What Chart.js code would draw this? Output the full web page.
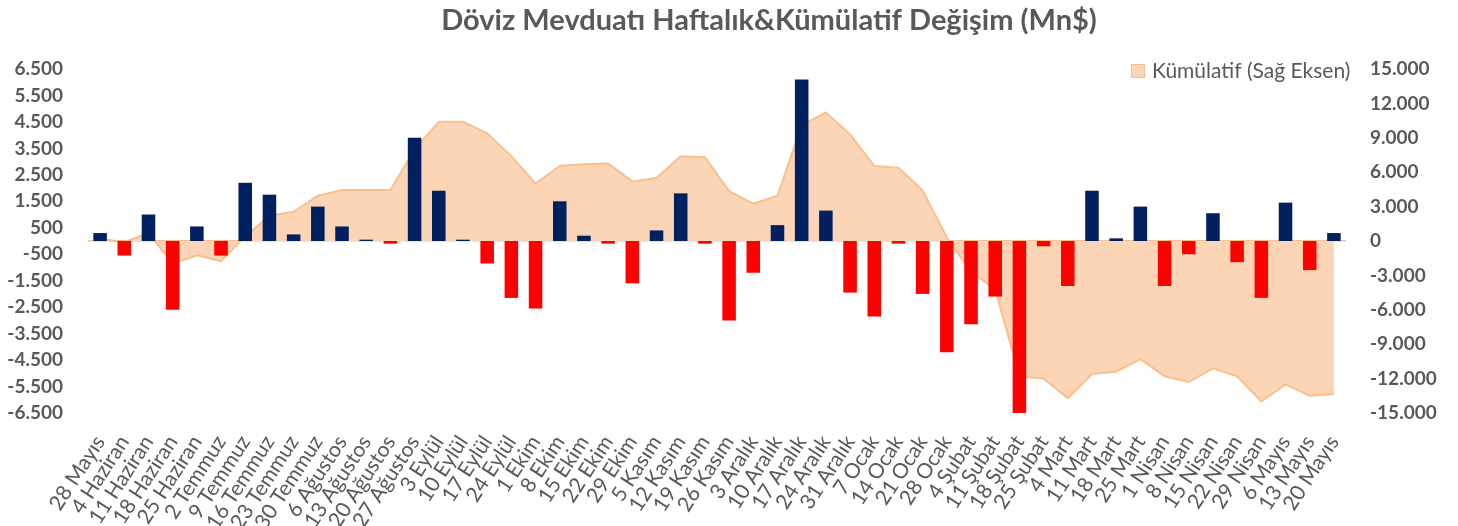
<!DOCTYPE html>
<html>
<head>
<meta charset="utf-8">
<script src="https://cdn.jsdelivr.net/npm/chart.js@4.4.1/dist/chart.umd.min.js"></script>
<style>
  html, body { margin: 0; padding: 0; background: #fff; }
  #wrap { width: 1458px; height: 526px; }
</style>
</head>
<body>
<div id="wrap"><canvas id="chart" width="1458" height="526"></canvas></div>
<script>
// Weeks (category axis)
const weeks = [
  '28 Mayıs', '4 Haziran', '11 Haziran', '18 Haziran', '25 Haziran',
  '2 Temmuz', '9 Temmuz', '16 Temmuz', '23 Temmuz', '30 Temmuz',
  '6 Ağustos', '13 Ağustos', '20 Ağustos', '27 Ağustos',
  '3 Eylül', '10 Eylül', '17 Eylül', '24 Eylül',
  '1 Ekim', '8 Ekim', '15 Ekim', '22 Ekim', '29 Ekim',
  '5 Kasım', '12 Kasım', '19 Kasım', '26 Kasım',
  '3 Aralık', '10 Aralık', '17 Aralık', '24 Aralık', '31 Aralık',
  '7 Ocak', '14 Ocak', '21 Ocak', '28 Ocak',
  '4 Şubat', '11 Şubat', '18 Şubat', '25 Şubat',
  '4 Mart', '11 Mart', '18 Mart', '25 Mart',
  '1 Nisan', '8 Nisan', '15 Nisan', '22 Nisan', '29 Nisan',
  '6 Mayıs', '13 Mayıs', '20 Mayıs'
];

// Weekly change (left axis, Mn$)
const weekly = [
  300, -550, 1000, -2600, 550,
  -550, 2200, 1750, 250, 1300,
  550, 50, -100, 3900,
  1900, 50, -850, -2150,
  -2550, 1500, 200, -100, -1600,
  400, 1800, -100, -3000,
  -1200, 600, 6100, 1150, -1950,
  -2850, -100, -2000, -4200,
  -3150, -2100, -6600, -200,
  -1700, 1900, 100, 1300,
  -1700, -500, 1050, -800, -2150,
  1450, -1100, 300
];

// Cumulative change (right axis, Mn$)
const cumulative = [
  200, -100, 700, -2000, -1250,
  -1750, 400, 2200, 2550, 3950,
  4450, 4450, 4450, 8000,
  10400, 10400, 9400, 7400,
  5000, 6550, 6700, 6750, 5200,
  5500, 7400, 7300, 4350,
  3250, 3950, 10100, 11200, 9300,
  6550, 6400, 4400, 300,
  -2700, -4200, -11800, -12000,
  -13700, -11600, -11400, -10300,
  -11800, -12300, -11100, -11800, -14000,
  -12500, -13500, -13350
];

// Axis ranges
const leftMin = -6500, leftMax = 6500, leftStep = 1000;
const rightMin = -15000, rightMax = 15000, rightStep = 3000;

const titleText = 'Döviz Mevduatı Haftalık&Kümülatif Değişim (Mn$)';
const legendText = 'Kümülatif (Sağ Eksen)';

const navy = '#002060';
const red = '#FF0000';
const areaFill = '#FBD5B5';
const areaLine = '#F8C08F';
const textGray = '#595959';
const fontFam = 'Lato, "Open Sans", sans-serif';

function trNum(v) {
  v = Math.round(v);
  const s = Math.abs(v).toString().replace(/\B(?=(\d{3})+(?!\d))/g, '.');
  return v < 0 ? '-' + s : s;
}

// title and legend drawn inside the chart like the original
const headerPlugin = {
  id: 'header',
  afterDraw(chart) {
    const c = chart.ctx;
    c.save();
    c.fillStyle = textGray;
    c.font = 'bold 29px ' + fontFam;
    c.textAlign = 'center';
    c.textBaseline = 'middle';
    c.fillText(titleText, 769, 21);

    c.fillStyle = areaFill;
    c.strokeStyle = areaLine;
    c.lineWidth = 1;
    c.fillRect(1131, 64, 14, 14);
    c.strokeRect(1131.5, 64.5, 13, 13);
    c.fillStyle = textGray;
    c.font = '21px ' + fontFam;
    c.textAlign = 'left';
    c.fillText(legendText, 1152, 71);
    c.restore();
  }
};

const ctx = document.getElementById('chart').getContext('2d');
new Chart(ctx, {
  type: 'bar',
  data: {
    labels: weeks,
    datasets: [
      {
        type: 'bar',
        label: 'Haftalık',
        data: weekly,
        yAxisID: 'y',
        backgroundColor: c => (c.raw >= 0 ? navy : red),
        borderWidth: 0,
        categoryPercentage: 1,
        barPercentage: 0.56,
        order: 0
      },
      {
        type: 'line',
        label: legendText,
        data: cumulative,
        yAxisID: 'y1',
        borderColor: areaLine,
        borderWidth: 2,
        backgroundColor: areaFill,
        fill: 'origin',
        pointRadius: 0,
        tension: 0,
        order: 1
      }
    ]
  },
  options: {
    responsive: false,
    animation: false,
    layout: { padding: { top: 69, left: 0, right: 0, bottom: 0 } },
    plugins: {
      legend: { display: false },
      title: { display: false },
      tooltip: { enabled: false }
    },
    scales: {
      x: {
        grid: { display: false, drawTicks: false },
        border: { display: false },
        ticks: {
          autoSkip: false,
          minRotation: 57,
          maxRotation: 57,
          padding: 18,
          color: textGray,
          font: { family: fontFam, size: 21 }
        },
        afterFit: s => { s.height = 113; }
      },
      y: {
        position: 'left',
        min: leftMin,
        max: leftMax,
        grid: { display: false, drawTicks: false },
        border: { display: false },
        ticks: {
          stepSize: leftStep,
          maxTicksLimit: 30,
          padding: 25,
          color: textGray,
          font: { family: fontFam, size: 19, weight: 'bold' },
          callback: v => trNum(v)
        },
        afterFit: s => { s.width = 88; }
      },
      y1: {
        position: 'right',
        min: rightMin,
        max: rightMax,
        grid: {
          drawTicks: false,
          color: c => (c.tick && c.tick.value === 0 ? areaLine : 'rgba(0,0,0,0)'),
          lineWidth: 1.5
        },
        border: { display: false },
        ticks: {
          stepSize: rightStep,
          maxTicksLimit: 30,
          padding: 24,
          color: textGray,
          font: { family: fontFam, size: 19, weight: 'bold' },
          callback: v => trNum(v)
        },
        afterFit: s => { s.width = 112; }
      }
    }
  },
  plugins: [headerPlugin]
});
</script>
</body>
</html>
